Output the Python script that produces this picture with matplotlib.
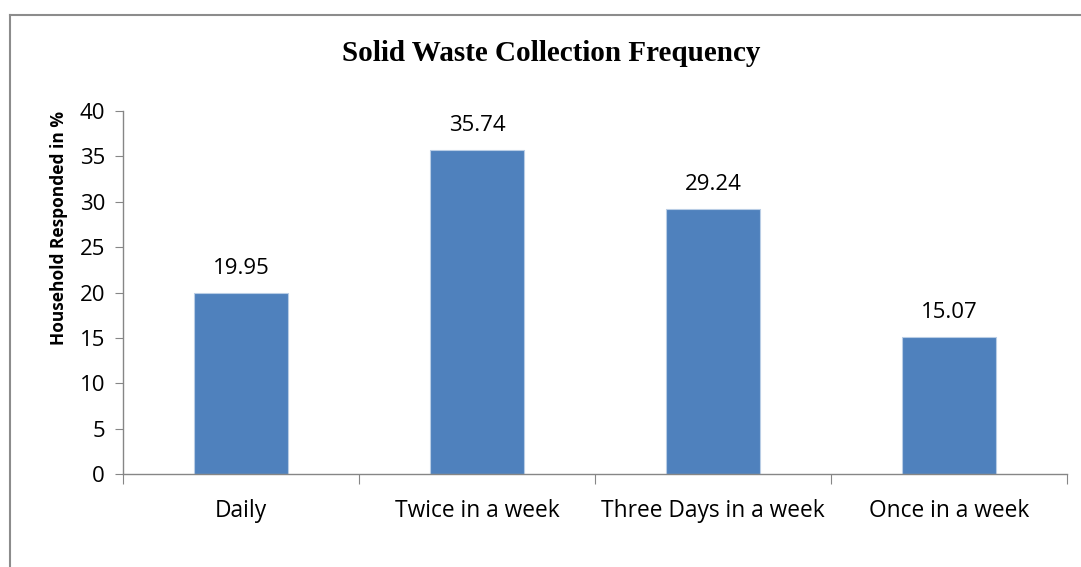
import matplotlib.pyplot as plt
from matplotlib.lines import Line2D
import numpy as np

categories = ["Daily", "Twice in a week", "Three Days in a week", "Once in a week"]
values = [19.95, 35.74, 29.24, 15.07]
y_ticks = [0, 5, 10, 15, 20, 25, 30, 35, 40]

BAR_COLOR = "#4F81BD"
AXIS_COLOR = "#868686"
LABEL_FONT = ["Open Sans", "DejaVu Sans"]


def main():
    fig = plt.figure(figsize=(10.81, 5.67), dpi=100)
    ax = fig.add_axes([0.1138, 0.164, 0.8735, 0.640])

    x = np.arange(len(categories))
    ax.bar(x, values, width=0.4, color=BAR_COLOR, edgecolor="#B9CDE5", linewidth=0.8)

    for xi, v in zip(x, values):
        ax.annotate(f"{v:.2f}", (xi, v), xytext=(0, 10), textcoords="offset points",
                    ha="center", va="bottom", fontsize=16, family=LABEL_FONT)

    ax.set_xlim(-0.5, len(categories) - 0.5)
    ax.set_ylim(0, 40)
    ax.set_yticks(y_ticks)
    ax.set_yticklabels([str(t) for t in y_ticks], fontsize=16, family=LABEL_FONT)

    # category labels centred, ticks on category boundaries
    ax.set_xticks(np.arange(len(categories) + 1) - 0.5)
    ax.set_xticklabels([])
    ax.set_xticks(x, minor=True)
    ax.set_xticklabels(categories, minor=True, fontsize=16.4, family=LABEL_FONT)
    ax.tick_params(axis="x", which="minor", length=0, pad=18)
    ax.tick_params(axis="x", which="major", length=7, color=AXIS_COLOR, direction="out")
    ax.tick_params(axis="y", length=6, color=AXIS_COLOR, direction="out", pad=7)

    for side in ["top", "right"]:
        ax.spines[side].set_visible(False)
    for side in ["left", "bottom"]:
        ax.spines[side].set_color(AXIS_COLOR)
        ax.spines[side].set_linewidth(1.0)

    ax.set_ylabel("Household Responded in %", fontsize=12.5, fontweight="bold",
                  family=LABEL_FONT)
    ax.yaxis.set_label_coords(-0.058, 0.678)

    fig.text(0.51, 0.906, "Solid Waste Collection Frequency", ha="center", va="center",
             fontsize=21, fontweight="bold", family=["Liberation Serif", "DejaVu Serif"])

    # chart frame (only left and top edges visible in the crop)
    fig.add_artist(Line2D([0.0097, 0.0097], [0, 0.974], transform=fig.transFigure,
                          color="#8C8C8C", linewidth=1.5))
    fig.add_artist(Line2D([0.0097, 1.0], [0.974, 0.974], transform=fig.transFigure,
                          color="#8C8C8C", linewidth=1.5))

    fig.savefig("out.png", dpi=100)
    plt.close(fig)


if __name__ == "__main__":
    main()
